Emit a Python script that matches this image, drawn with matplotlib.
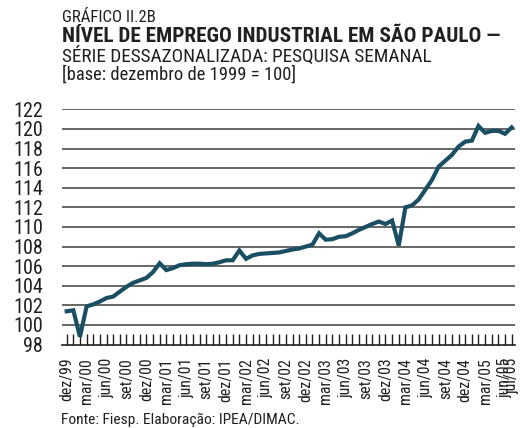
import matplotlib
matplotlib.use("Agg")
import matplotlib.pyplot as plt
from matplotlib import font_manager

# monthly index, dez/99 .. jul/05
values = [
    101.4, 101.5, 98.8, 101.9, 102.1, 102.4, 102.75, 102.9, 103.4, 103.9,
    104.3, 104.55, 104.8, 105.4, 106.3, 105.6, 105.8, 106.1, 106.2, 106.25,
    106.25, 106.2, 106.25, 106.4, 106.6, 106.6, 107.6, 106.75, 107.1, 107.25,
    107.3, 107.35, 107.4, 107.55, 107.7, 107.8, 108.0, 108.2, 109.35, 108.7,
    108.75, 109.0, 109.05, 109.35, 109.7, 110.0, 110.3, 110.55, 110.3, 110.65,
    108.1, 112.0, 112.2, 112.8, 113.8, 114.8, 116.15, 116.75, 117.35, 118.2,
    118.7, 118.8, 120.3, 119.6, 119.8, 119.8, 119.5, 120.15,
]
tick_pos = [0, 3, 6, 9, 12, 15, 18, 21, 24, 27, 30, 33, 36, 39, 42, 45,
            48, 51, 54, 57, 60, 63, 66, 67]
tick_labels = ["dez/99", "mar/00", "jun/00", "set/00", "dez/00", "mar/01",
               "jun/01", "set/01", "dez/01", "mar/02", "jun/02", "set/02",
               "dez/02", "mar/03", "jun/03", "set/03", "dez/03", "mar/04",
               "jun/04", "set/04", "dez/04", "mar/05", "jun/05", "jul/05"]
y_ticks = list(range(98, 123, 2))

# look for a narrow face, otherwise stay with DejaVu and shrink
fonts = font_manager.fontManager.ttflist
names = {f.name for f in fonts}
stretch = "normal"
font = "DejaVu Sans"
for cand in ["Liberation Sans Narrow", "Roboto Condensed", "Open Sans Condensed",
             "Noto Sans Condensed", "DejaVu Sans Condensed"]:
    if cand in names:
        font = cand
        break
else:
    if any(f.name == "DejaVu Sans" and f.stretch == "condensed" for f in fonts):
        stretch = "condensed"
plt.rcParams["font.family"] = [font, "DejaVu Sans"]
plt.rcParams["font.stretch"] = stretch

txt = "#231f20"
W, H = 520, 428
fig = plt.figure(figsize=(W / 100, H / 100), dpi=100)
renderer = fig.canvas.get_renderer()


def fit_size(s, width_px, size=14, **kw):
    # font size that makes s about width_px wide
    t = fig.text(0, 0, s, fontsize=size, **kw)
    w = t.get_window_extent(renderer).width
    t.remove()
    return size * width_px / w


left, right, top, bottom = 61.7, 515, 109.3, 344.6
ax = fig.add_axes([left / W, 1 - bottom / H, (right - left) / W, (bottom - top) / H])

ax.plot(range(len(values)), values, color="#1a4f63", lw=3, solid_joinstyle="miter")
ax.set_xlim(-0.75, 67.5)
ax.set_ylim(98, 122)

for v in y_ticks[1:]:
    ax.axhline(v, color="#4d4d4d", lw=1.2, zorder=0)

for s in ["top", "right", "left"]:
    ax.spines[s].set_visible(False)
ax.spines["bottom"].set_color(txt)
ax.spines["bottom"].set_linewidth(1.2)

ysize = min(15, fit_size("122", 30))
ax.set_yticks(y_ticks)
ax.set_yticklabels([str(v) for v in y_ticks])
ax.tick_params(axis="y", length=0, pad=13.5, labelsize=ysize, labelcolor=txt)

# monthly ticks pointing up, labels every quarter
xsize = min(12.5, fit_size("dez/99", 44))
ax.set_xticks(range(len(values)), minor=True)
ax.set_xticks(tick_pos)
ax.set_xticklabels(tick_labels, rotation=90, ha="center", va="top")
ax.tick_params(axis="x", which="both", direction="in", length=8, width=1, color=txt)
ax.tick_params(axis="x", which="major", pad=9.5, labelsize=xsize, labelcolor=txt)


def put(x, y, s, width, **kw):
    size = fit_size(s, width, **kw)
    fig.text(x / W, 1 - y / H, s, color=txt, va="baseline", ha="left",
             fontsize=size, **kw)


put(62, 22, "GRÁFICO II.2B", 95)
put(62, 42, "NÍVEL DE EMPREGO INDUSTRIAL EM SÃO PAULO —", 441, fontweight="bold")
put(62, 62, "SÉRIE DESSAZONALIZADA: PESQUISA SEMANAL", 373)
put(62, 80, "[base: dezembro de 1999 = 100]", 235)
put(61, 424, "Fonte: Fiesp. Elaboração: IPEA/DIMAC.", 240)

fig.savefig("out.png", dpi=100)
